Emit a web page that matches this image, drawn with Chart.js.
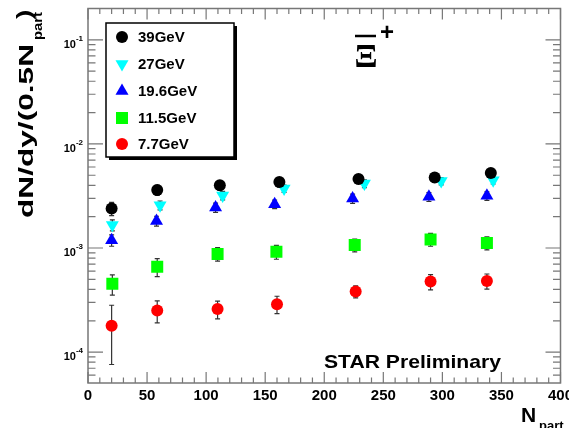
<!DOCTYPE html>
<html>
<head>
<meta charset="utf-8">
<script src="https://cdn.jsdelivr.net/npm/chart.js@4/dist/chart.umd.min.js"></script>
<style>
  html, body { margin: 0; padding: 0; background: #fff; }
  canvas { display: block; }
</style>
</head>
<body>
<canvas id="xiChart" width="569" height="428"></canvas>
<script>
// energies (legend order)
const energies = ['39GeV', '27GeV', '19.6GeV', '11.5GeV', '7.7GeV'];

// Npart positions per energy (slightly shifted in the original plot)
const npart39 = [20, 58.6, 111.6, 162, 229, 293.5, 341];
const npart27 = [20.6, 61, 114, 166, 234, 299, 343];
const npart19 = [20, 58, 108, 158, 224, 288.6, 337.7];
const npart11 = [20.6, 58.6, 109.7, 159.5, 225.8, 290, 337.7];
const npart7 = [20, 58.6, 109.7, 160, 226.6, 290, 337.7];

// dN/dy/(0.5 Npart)
const yield39 = [2.4e-3, 3.6e-3, 4.0e-3, 4.3e-3, 4.6e-3, 4.75e-3, 5.25e-3];
const yield27 = [1.66e-3, 2.58e-3, 3.2e-3, 3.73e-3, 4.16e-3, 4.4e-3, 4.47e-3];
const yield19 = [1.19e-3, 1.82e-3, 2.45e-3, 2.64e-3, 2.99e-3, 3.1e-3, 3.17e-3];
const yield11 = [4.53e-4, 6.62e-4, 8.77e-4, 9.2e-4, 1.07e-3, 1.21e-3, 1.12e-3];
const yield7 = [1.79e-4, 2.51e-4, 2.59e-4, 2.89e-4, 3.82e-4, 4.76e-4, 4.83e-4];

// errors (absolute, symmetric)
const err39 = [0.35e-3, 0.4e-3, 0.4e-3, 0.45e-3, 0.45e-3, 0.45e-3, 0.5e-3];
const err27 = [0.2e-3, 0.25e-3, 0.3e-3, 0.3e-3, 0.35e-3, 0.35e-3, 0.35e-3];
const err19 = [0.15e-3, 0.2e-3, 0.25e-3, 0.25e-3, 0.3e-3, 0.3e-3, 0.3e-3];
const err11 = [1.0e-4, 1.3e-4, 1.3e-4, 1.4e-4, 1.5e-4, 1.7e-4, 1.6e-4];
const err7 = [1.03e-4, 0.6e-4, 0.5e-4, 0.55e-4, 0.5e-4, 0.8e-4, 0.8e-4];

// axis ticks
const xTicks = [0, 50, 100, 150, 200, 250, 300, 350, 400];
const yDecades = [-4, -3, -2, -1];

const FONT = '"Liberation Sans", Arimo, Arial, sans-serif';
const SERIF = '"Liberation Serif", "Times New Roman", serif';

function pts(xs, ys, es) {
    return xs.map((x, i) => ({ x: x, y: ys[i], err: es[i] }));
}

const styles = [
    { color: '#000000', pointStyle: 'circle', radius: 6, rotation: 0 },
    { color: '#00ffff', pointStyle: 'triangle', radius: 7.5, rotation: 180 },
    { color: '#0000ff', pointStyle: 'triangle', radius: 7.5, rotation: 0 },
    { color: '#00ff00', pointStyle: 'rect', radius: 8.5, rotation: 0 },
    { color: '#ff0000', pointStyle: 'circle', radius: 6, rotation: 0 }
];

const seriesData = [
    pts(npart39, yield39, err39),
    pts(npart27, yield27, err27),
    pts(npart19, yield19, err19),
    pts(npart11, yield11, err11),
    pts(npart7, yield7, err7)
];

const datasets = energies.map((label, i) => ({
    label: label,
    data: seriesData[i],
    pointStyle: styles[i].pointStyle,
    pointRadius: styles[i].radius,
    pointRotation: styles[i].rotation,
    pointBackgroundColor: styles[i].color,
    pointBorderColor: styles[i].color,
    pointBorderWidth: 0,
    showLine: false
}));

// error bars, drawn under the markers
const errorBars = {
    id: 'errorBars',
    beforeDatasetsDraw(chart) {
        const ctx = chart.ctx;
        const xs = chart.scales.x, ys = chart.scales.y;
        ctx.save();
        ctx.strokeStyle = '#333';
        ctx.lineWidth = 1.2;
        chart.data.datasets.forEach(ds => {
            ds.data.forEach(p => {
                const px = xs.getPixelForValue(p.x);
                const yTop = ys.getPixelForValue(p.y + p.err);
                const yBot = ys.getPixelForValue(p.y - p.err);
                ctx.beginPath();
                ctx.moveTo(px, yTop); ctx.lineTo(px, yBot);
                ctx.moveTo(px - 2.5, yTop); ctx.lineTo(px + 2.5, yTop);
                ctx.moveTo(px - 2.5, yBot); ctx.lineTo(px + 2.5, yBot);
                ctx.stroke();
            });
        });
        ctx.restore();
    }
};

// ROOT style frame, ticks, labels, legend and texts
const rootFrame = {
    id: 'rootFrame',
    afterDraw(chart) {
        const ctx = chart.ctx;
        const a = chart.chartArea;
        const xs = chart.scales.x, ys = chart.scales.y;
        ctx.save();

        // frame
        ctx.strokeStyle = '#777';
        ctx.lineWidth = 1.5;
        ctx.strokeRect(a.left, a.top, a.right - a.left, a.bottom - a.top);

        // x ticks (bottom + top)
        ctx.lineWidth = 1.2;
        ctx.beginPath();
        for (let v = 0; v <= 400; v += 10) {
            const px = xs.getPixelForValue(v);
            const len = v % 50 === 0 ? 11 : 5.5;
            ctx.moveTo(px, a.bottom); ctx.lineTo(px, a.bottom - len);
            ctx.moveTo(px, a.top); ctx.lineTo(px, a.top + len);
        }
        // y ticks (left + right)
        for (let d = -5; d <= -1; d++) {
            for (let k = 1; k <= 9; k++) {
                const v = k * Math.pow(10, d);
                if (v < ys.min || v > ys.max) continue;
                const py = ys.getPixelForValue(v);
                const len = k === 1 ? 15 : 7.5;
                ctx.moveTo(a.left, py); ctx.lineTo(a.left + len, py);
                ctx.moveTo(a.right, py); ctx.lineTo(a.right - len, py);
            }
        }
        ctx.stroke();

        ctx.fillStyle = '#000';

        // x tick labels
        ctx.font = 'bold 15px ' + FONT;
        ctx.textAlign = 'center';
        ctx.textBaseline = 'alphabetic';
        xTicks.forEach(v => {
            ctx.fillText(String(v), xs.getPixelForValue(v), 400);
        });

        // y tick labels 10^n
        yDecades.forEach(n => {
            const py = ys.getPixelForValue(Math.pow(10, n));
            ctx.textAlign = 'right';
            ctx.font = 'bold 8px ' + FONT;
            const sup = String(n);
            const supW = ctx.measureText(sup).width;
            ctx.fillText(sup, 83, py + 1);
            ctx.font = 'bold 11px ' + FONT;
            ctx.fillText('10', 83 - supW, py + 8);
        });

        // x title N_part
        ctx.textAlign = 'left';
        ctx.font = 'bold 21px ' + FONT;
        ctx.fillText('N', 521, 422);
        ctx.font = 'bold 13px ' + FONT;
        ctx.fillText('part', 539, 430);

        // y title, rotated (text is stretched along its length in the original)
        ctx.save();
        ctx.translate(33, 218);
        ctx.rotate(-Math.PI / 2);
        ctx.textAlign = 'left';
        ctx.font = 'bold 20px ' + FONT;
        const main = 'dN/dy/(0.5N';
        const mw = ctx.measureText(main).width;
        const mScale = 174 / mw;
        ctx.save();
        ctx.scale(mScale, 1);
        ctx.fillText(main, 0, 0);
        ctx.restore();
        ctx.font = 'bold 12px ' + FONT;
        const pw = ctx.measureText('part').width;
        ctx.save();
        ctx.translate(178, 9);
        ctx.scale(28 / pw, 1);
        ctx.fillText('part', 0, 0);
        ctx.restore();
        ctx.font = 'bold 20px ' + FONT;
        ctx.save();
        ctx.translate(199, -2);
        ctx.scale(1.4, 1);
        ctx.fillText(')', 0, 0);
        ctx.restore();
        ctx.restore();

        // particle label (anti-Xi plus)
        ctx.textAlign = 'center';
        ctx.font = 'bold 34px ' + SERIF;
        ctx.fillText('\u039E', 366, 67);
        ctx.lineWidth = 2.5;
        ctx.strokeStyle = '#000';
        ctx.beginPath();
        ctx.moveTo(355, 36); ctx.lineTo(376, 36);
        ctx.stroke();
        ctx.font = 'bold 24px ' + FONT;
        ctx.fillText('+', 387, 40);

        // STAR Preliminary
        ctx.save();
        ctx.font = 'bold 19px ' + FONT;
        ctx.textAlign = 'left';
        const star = 'STAR Preliminary';
        const sw = ctx.measureText(star).width;
        ctx.translate(324, 368);
        ctx.scale(177 / sw, 1);
        ctx.fillText(star, 0, 0);
        ctx.restore();

        // legend box with shadow
        const lx = 106, ly = 23, lw = 128, lh = 134;
        ctx.fillStyle = '#000';
        ctx.fillRect(lx + 3, ly + lh, lw, 3);
        ctx.fillRect(lx + lw, ly + 3, 3, lh);
        ctx.fillStyle = '#fff';
        ctx.fillRect(lx, ly, lw, lh);
        ctx.strokeStyle = '#000';
        ctx.lineWidth = 1.5;
        ctx.strokeRect(lx, ly, lw, lh);

        const rowY = [37, 64, 91, 118, 144];
        chart.data.datasets.forEach((ds, i) => {
            ctx.fillStyle = styles[i].color;
            ctx.strokeStyle = styles[i].color;
            Chart.helpers.drawPoint(ctx, {
                pointStyle: styles[i].pointStyle,
                radius: styles[i].radius,
                rotation: styles[i].rotation,
                borderWidth: 0
            }, 122, rowY[i]);
            ctx.fillStyle = '#000';
            ctx.font = 'bold 15px ' + FONT;
            ctx.textAlign = 'left';
            ctx.textBaseline = 'middle';
            ctx.fillText(ds.label, 138, rowY[i] + 1);
        });

        ctx.restore();
    }
};

function buildChart() {
    return new Chart(document.getElementById('xiChart'), {
        type: 'scatter',
        data: { datasets: datasets },
        options: {
            responsive: false,
            animation: false,
            layout: { padding: { left: 88, right: 8, top: 7, bottom: 45 } },
            scales: {
                x: { type: 'linear', min: 0, max: 400, display: false },
                y: { type: 'logarithmic', min: 5.05e-5, max: 0.2, display: false }
            },
            plugins: {
                legend: { display: false },
                tooltip: { enabled: false }
            }
        },
        plugins: [errorBars, rootFrame]
    });
}

// make sure the local fonts are ready before drawing on the canvas
Promise.all([
    document.fonts.load('bold 15px "Liberation Sans"'),
    document.fonts.load('bold 34px "Liberation Serif"')
]).then(buildChart, buildChart);
</script>
</body>
</html>
